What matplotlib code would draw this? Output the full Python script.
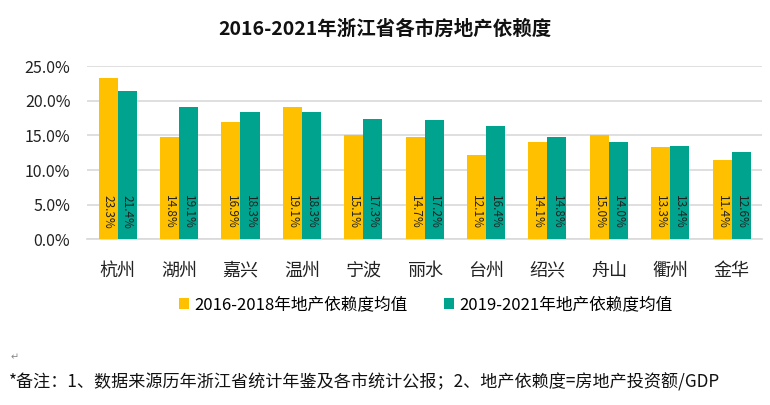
import matplotlib
matplotlib.use("Agg")
import matplotlib.pyplot as plt
import numpy as np
from matplotlib.ticker import FuncFormatter

plt.rcParams['font.family'] = ['Noto Sans CJK SC', 'DejaVu Sans']

cities = ["杭州", "湖州", "嘉兴", "温州", "宁波", "丽水", "台州", "绍兴", "舟山", "衢州", "金华"]
avg_2016_2018 = [23.3, 14.8, 16.9, 19.1, 15.1, 14.7, 12.1, 14.1, 15.0, 13.3, 11.4]
avg_2019_2021 = [21.4, 19.1, 18.3, 18.3, 17.3, 17.2, 16.4, 14.8, 14.0, 13.4, 12.6]
series_names = ["2016-2018年地产依赖度均值", "2019-2021年地产依赖度均值"]
title = "2016-2021年浙江省各市房地产依赖度"
note = "*备注：1、数据来源历年浙江省统计年鉴及各市统计公报；2、地产依赖度=房地产投资额/GDP"

c1 = "#FFC000"
c2 = "#00A38D"

fig = plt.figure(figsize=(7.7, 4.05), dpi=100)
ax = fig.add_axes([0.113, 0.409, 0.877, 0.428])

x = np.arange(len(cities))
w = 0.31
b1 = ax.bar(x - w/2, avg_2016_2018, w, color=c1, label=series_names[0], zorder=3)
b2 = ax.bar(x + w/2, avg_2019_2021, w, color=c2, label=series_names[1], zorder=3)

for xi, v in zip(x - w/2, avg_2016_2018):
    ax.text(xi, 3.9, f"{v:.1f}%", rotation=-90, ha='center', va='center', fontsize=8.5, color='#222222', zorder=4)
for xi, v in zip(x + w/2, avg_2019_2021):
    ax.text(xi, 3.9, f"{v:.1f}%", rotation=-90, ha='center', va='center', fontsize=8.5, color='#222222', zorder=4)

ax.set_xlim(-0.5, len(cities) - 0.5)
ax.set_ylim(0, 25)
ax.set_yticks(np.arange(0, 25.1, 5))
ax.yaxis.set_major_formatter(FuncFormatter(lambda v, p: f"{v:.1f}%"))
ax.grid(axis='y', color='#D9D9D9', linewidth=1.2, zorder=0)
for s in ['top', 'right', 'left']:
    ax.spines[s].set_visible(False)
ax.spines['bottom'].set_color('#D9D9D9')
ax.spines['bottom'].set_linewidth(1.2)
ax.tick_params(axis='both', length=0)
ax.tick_params(axis='y', labelsize=11.5, pad=12, colors='#222222')
ax.set_xticks(x)
ax.set_xticklabels(cities, fontsize=13, color='#222222')
ax.tick_params(axis='x', pad=16)

fig.text(0.5, 0.928, title, ha='center', va='center', fontsize=14, fontweight='bold', color='#111111')

fig.legend(handles=[b1, b2], labels=series_names, loc='center', bbox_to_anchor=(0.553, 0.247),
           ncol=2, frameon=False, fontsize=12, handlelength=0.6, handleheight=0.6,
           handletextpad=0.3, columnspacing=2.2)

fig.text(0.012, 0.057, note, ha='left', va='center', fontsize=12.3, color='#111111')
fig.text(0.014, 0.119, "↵", ha='left', va='center', fontsize=7, color='#888888', family=['DejaVu Sans'])

fig.savefig("out.png", dpi=100)
